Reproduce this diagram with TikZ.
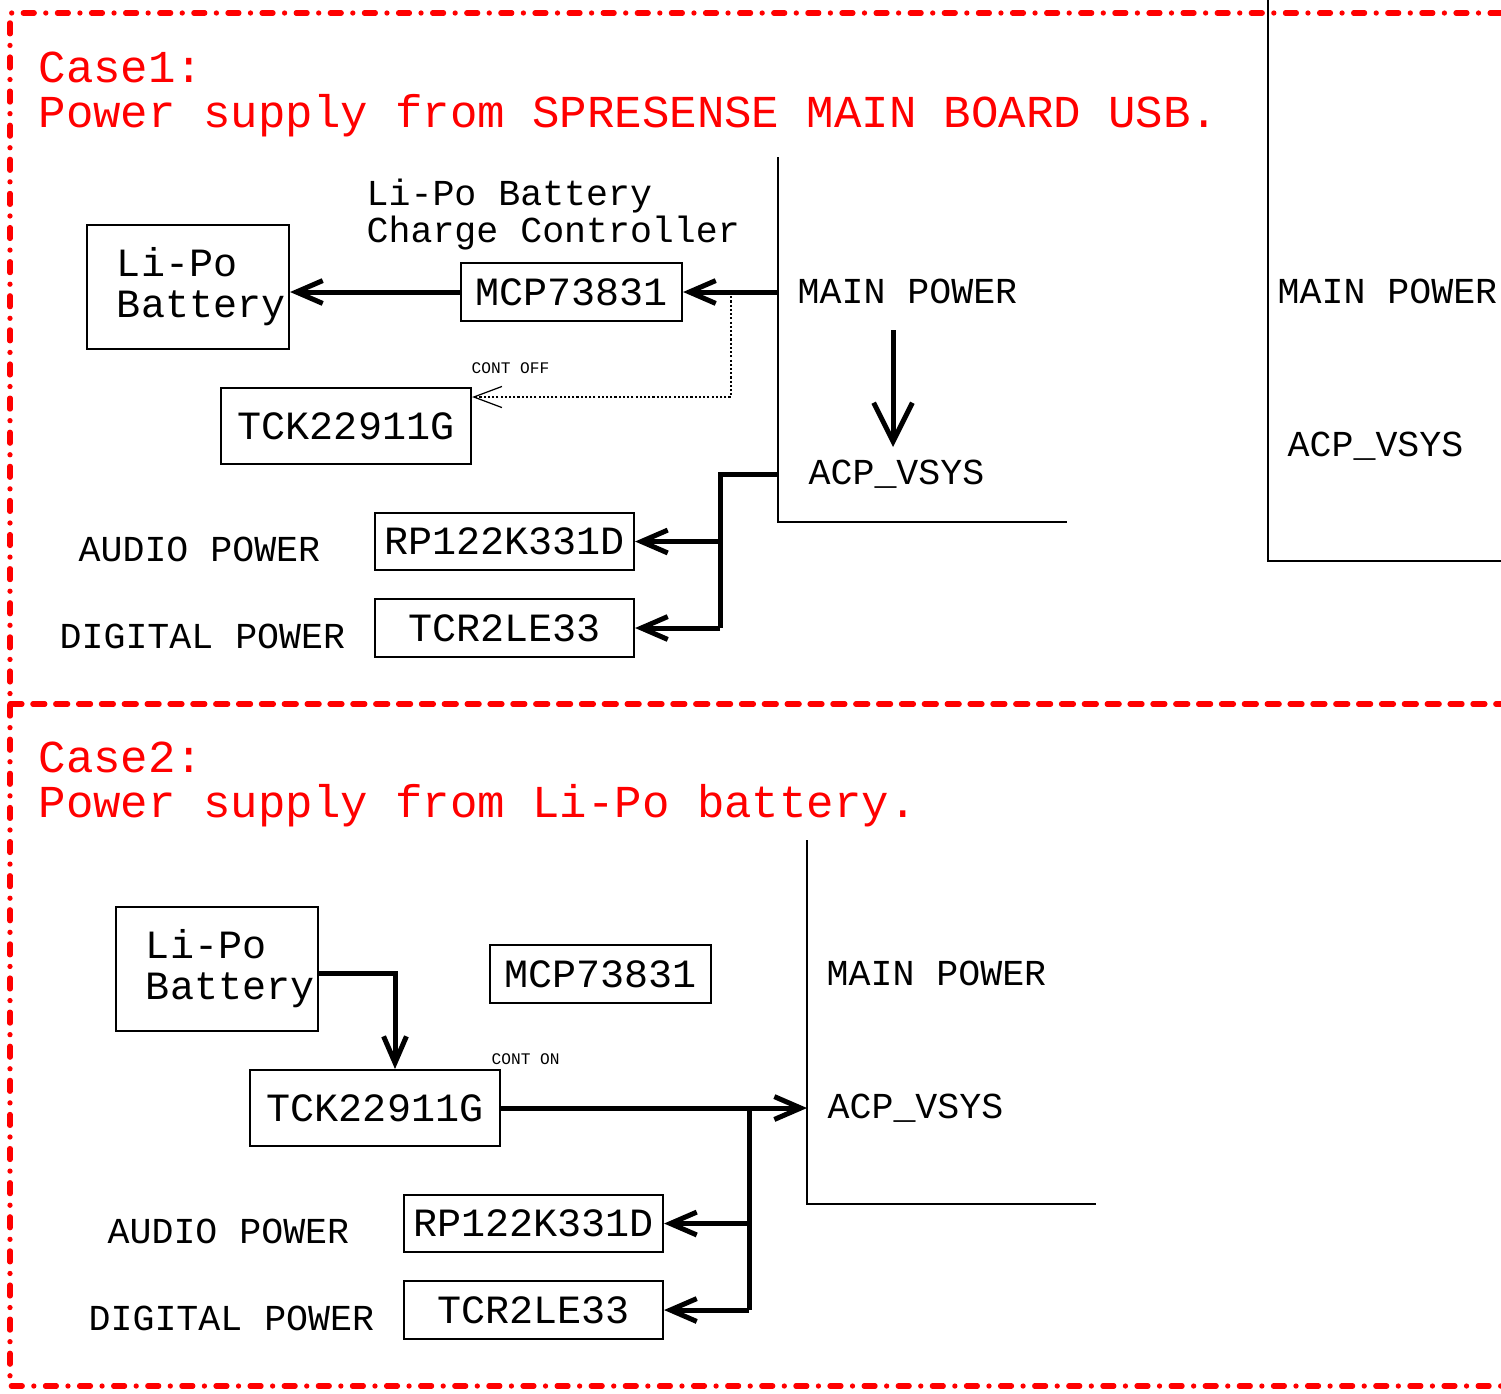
\documentclass[tikz,border=0pt]{standalone}
\usepackage{fontspec}
\usepackage{tikz}
\newfontfamily\monofont{Liberation Mono}
\newcommand{\chipsize}{\monofont\fontsize{11.4pt}{11.7pt}\selectfont}
\newcommand{\labelsize}{\monofont\fontsize{10.4pt}{10.25pt}\selectfont}
\newcommand{\titlesize}{\monofont\fontsize{13pt}{12.8pt}\selectfont}
\newcommand{\ctrlsize}{\monofont\fontsize{4.6pt}{5pt}\selectfont}
\usetikzlibrary{arrows.meta}
\tikzstyle{chip} = [rectangle, draw = black, line width=0.57pt, inner sep=0pt, font=\chipsize]
\tikzstyle{cell} = [chip, minimum width=2.02cm, minimum height=1.24cm, text width=1.42cm, inner xsep=0.3cm, align=left]
\tikzstyle{txt} = [inner sep=0pt, anchor=base west, font=\labelsize]
\tikzstyle{casetitle} = [inner sep=0pt, anchor=base west, font=\titlesize, text=red]
\tikzstyle{ctrl} = [inner sep=0pt, anchor=base west, font=\ctrlsize]
\tikzstyle{wire} = [line width=1.42pt]
\tikzstyle{arrow} = [-{Straight Barb[length=7.5pt,width=6.5pt]}, line width=1.42pt]
\tikzstyle{bigarrow} = [-{Straight Barb[length=11pt,width=11pt]}, line width=1.42pt]
\tikzstyle{ctrlarrow} = [-{Straight Barb[length=8pt,width=6pt]}, line width=0.35pt, dash pattern=on 0.6pt off 0.6pt]
\tikzstyle{board} = [line width=0.57pt]
\tikzstyle{dashdot} = [draw=red, line width=1.5pt, line cap=round, dash pattern=on 3.1pt off 3.3pt on 0pt off 3.3pt]
\tikzstyle{dashline} = [draw=red, line width=1.5pt, line cap=round, dash pattern=on 3.4pt off 3.1pt]

\begin{document}
\begin{tikzpicture}[x=0.01cm, y=-0.01cm]
  \useasboundingbox (0,0) rectangle (1501,1393);
  % frames of the two cases
  \draw[dashdot] (1501,13) -- (10,13) -- (10,1386) -- (1501,1386);
  \draw[dashline] (10,704) -- (1501,704);

  % the main board seen at the right
  \draw[board] (1268,0) -- (1268,561) -- (1501,561);
  \node[txt] (mainpwr0) at (1277,303) {MAIN POWER};
  \node[txt] (acp0) at (1287,456) {ACP\_VSYS};

  % case 1
  \node[casetitle] (case1) at (38,82) {Case1:};
  \node[casetitle] (title1) at (38,127) {Power supply from SPRESENSE MAIN BOARD USB.};
  \node[txt, align=left] (charger1) at (366,242) {Li-Po Battery\\Charge Controller};
  \node[cell] (lipo1) at (188,287) {Li-Po\\\mbox{Battery}};
  \node[chip, minimum width=2.21cm, minimum height=0.58cm] (mcp1) at (571.5,292) {MCP73831};
  \node[chip, minimum width=2.50cm, minimum height=0.76cm] (tck1) at (346,426) {TCK22911G};
  \node[chip, minimum width=2.59cm, minimum height=0.57cm] (rp1) at (504.5,541.5) {RP122K331D};
  \node[chip, minimum width=2.59cm, minimum height=0.58cm] (tcr1) at (504.5,628) {TCR2LE33};
  \node[txt] (audio1) at (78,561) {AUDIO POWER};
  \node[txt] (digital1) at (59,648) {DIGITAL POWER};
  \node[ctrl] (contoff) at (471,373) {CONT OFF};
  \node[txt] (mainpwr1) at (797,303) {MAIN POWER};
  \node[txt] (acp1) at (808,484) {ACP\_VSYS};

  \draw[board] (778,157) -- (778,522) -- (1067,522);
  \coordinate (bmain1) at (778,292);
  \coordinate (bacp1) at (778,474);
  \coordinate (ctrl1) at (731,397);
  \coordinate (down1) at (893,330);
  \coordinate (down1end) at (893,447);
  \coordinate (split1) at (720,474);

  \draw[arrow] (mcp1.west) -- (mcp1.west -| lipo1.east);
  \draw[arrow] (bmain1) -- (mcp1.east);
  \draw[ctrlarrow] (ctrl1 |- mcp1.east) -- (ctrl1) -- (ctrl1 -| tck1.east);
  \draw[bigarrow] (down1) -- (down1end);
  \draw[wire] (bacp1) -- (split1) -- (split1 |- tcr1.east);
  \draw[arrow] (split1 |- rp1.east) -- (rp1.east);
  \draw[arrow] (split1 |- tcr1.east) -- (tcr1.east);

  % case 2
  \node[casetitle] (case2) at (38,772) {Case2:};
  \node[casetitle] (title2) at (38,817) {Power supply from Li-Po battery.};
  \node[cell] (lipo2) at (217,969) {Li-Po\\\mbox{Battery}};
  \node[chip, minimum width=2.21cm, minimum height=0.58cm] (mcp2) at (600.5,974) {MCP73831};
  \node[chip, minimum width=2.50cm, minimum height=0.76cm] (tck2) at (375,1108) {TCK22911G};
  \node[chip, minimum width=2.59cm, minimum height=0.57cm] (rp2) at (533.5,1223.5) {RP122K331D};
  \node[chip, minimum width=2.59cm, minimum height=0.58cm] (tcr2) at (533.5,1310) {TCR2LE33};
  \node[txt] (audio2) at (107,1243) {AUDIO POWER};
  \node[txt] (digital2) at (88,1330) {DIGITAL POWER};
  \node[ctrl] (conton) at (491,1064) {CONT ON};
  \node[txt] (mainpwr2) at (826,985) {MAIN POWER};
  \node[txt] (acp2) at (827,1118) {ACP\_VSYS};

  \draw[board] (807,840) -- (807,1204) -- (1096,1204);
  \coordinate (drop2) at (395,973);
  \coordinate (bacp2) at (807,1108);
  \coordinate (split2) at (749,1108);

  \draw[arrow] (drop2 -| lipo2.east) -- (drop2) -- (drop2 |- tck2.north);
  \draw[arrow] (tck2.east) -- (bacp2);
  \draw[wire] (split2) -- (split2 |- tcr2.east);
  \draw[arrow] (split2 |- rp2.east) -- (rp2.east);
  \draw[arrow] (split2 |- tcr2.east) -- (tcr2.east);
\end{tikzpicture}
\end{document}
